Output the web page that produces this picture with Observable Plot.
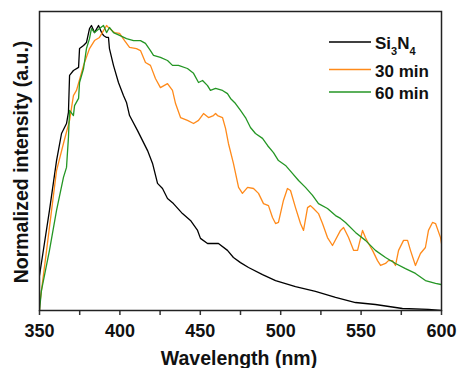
<!DOCTYPE html>
<html>
<head>
<meta charset="utf-8">
<script src="https://cdn.jsdelivr.net/npm/d3@7"></script>
<script src="https://cdn.jsdelivr.net/npm/@observablehq/plot@0.6"></script>
<style>
  html, body { margin: 0; padding: 0; background: #fff; }
  #chart { position: relative; width: 459px; height: 368px; }
</style>
</head>
<body>
<div id="chart"></div>
<script>
// ---- data ----
const seriesNames = ["Si3N4", "30 min", "60 min"];
const seriesColors = ["#000000", "#ff8a1a", "#249624"];

const siWl = [350, 356.2, 360.6, 363.7, 366.8, 368.0, 368.7, 371.1, 374.3, 374.9, 377.4, 379.2, 381.1, 382.3, 384.2, 386.7, 388.6, 389.8, 391.7, 392.9, 393.5, 396.0, 399.1, 402.2, 404.1, 406.0, 410.9, 417.2, 420.3, 423.4, 426.5, 429.6, 433.3, 438.9, 443.9, 448.3, 450.1, 454.5, 457.6, 461.3, 466.9, 470.6, 475.0, 480.0, 488.7, 496.8, 509.2, 521.6, 534.1, 546.5, 558.9, 575.7, 591.9, 600];
const siI  = [0.123, 0.351, 0.526, 0.621, 0.656, 0.695, 0.825, 0.842, 0.853, 0.919, 0.930, 0.940, 0.989, 1.000, 0.975, 1.000, 0.975, 0.965, 0.958, 0.958, 0.919, 0.860, 0.800, 0.754, 0.730, 0.684, 0.632, 0.561, 0.516, 0.446, 0.428, 0.393, 0.375, 0.340, 0.316, 0.281, 0.253, 0.235, 0.235, 0.235, 0.211, 0.186, 0.168, 0.151, 0.126, 0.105, 0.084, 0.067, 0.046, 0.028, 0.021, 0.007, 0.004, 0.0];

const m30Wl = [350, 350.2, 354.4, 357.5, 360.6, 364.9, 368.7, 371.1, 373.0, 377.4, 381.1, 384.2, 387.3, 389.8, 391.7, 393.5, 396.6, 399.8, 402.9, 406.0, 410.3, 412.8, 415.9, 419.0, 422.1, 425.2, 429.6, 432.7, 434.6, 437.7, 442.0, 445.8, 448.9, 452.0, 455.1, 458.2, 459.5, 460.7, 463.8, 465.7, 467.5, 470.6, 473.8, 476.2, 479.4, 483.1, 486.2, 489.3, 492.4, 494.9, 496.8, 498.6, 501.7, 504.2, 506.1, 509.2, 512.3, 514.2, 516.7, 518.5, 520.4, 523.5, 526.0, 529.1, 532.2, 537.2, 539.1, 542.2, 545.3, 547.8, 550.9, 552.7, 554.6, 557.1, 560.2, 562.1, 565.2, 567.0, 569.5, 571.4, 573.3, 576.4, 578.9, 580.7, 583.8, 586.9, 590.0, 591.9, 594.4, 596.3, 599.4, 600];
const m30I  = [0.0, 0.025, 0.211, 0.351, 0.491, 0.586, 0.667, 0.754, 0.772, 0.860, 0.919, 0.947, 0.958, 0.982, 1.000, 0.989, 0.975, 0.972, 0.947, 0.923, 0.919, 0.912, 0.870, 0.860, 0.814, 0.782, 0.796, 0.772, 0.726, 0.677, 0.667, 0.656, 0.667, 0.691, 0.677, 0.684, 0.691, 0.684, 0.677, 0.639, 0.586, 0.516, 0.432, 0.411, 0.432, 0.428, 0.411, 0.375, 0.368, 0.326, 0.305, 0.309, 0.386, 0.428, 0.421, 0.361, 0.305, 0.281, 0.361, 0.368, 0.358, 0.340, 0.305, 0.256, 0.228, 0.281, 0.291, 0.256, 0.211, 0.211, 0.281, 0.256, 0.235, 0.211, 0.175, 0.158, 0.165, 0.175, 0.175, 0.158, 0.211, 0.246, 0.246, 0.211, 0.158, 0.200, 0.221, 0.281, 0.309, 0.305, 0.256, 0.235];

const m60Wl = [350, 351.2, 356.2, 360.6, 364.9, 366.8, 368.0, 368.7, 371.1, 371.8, 374.3, 374.9, 377.4, 379.2, 381.1, 382.3, 384.2, 387.3, 389.8, 391.7, 393.5, 396.0, 399.8, 404.1, 408.5, 412.8, 415.9, 419.0, 420.9, 425.2, 429.6, 432.7, 436.4, 442.0, 445.8, 448.9, 451.4, 454.5, 456.3, 459.5, 463.8, 466.9, 468.8, 471.9, 475.0, 478.1, 481.2, 484.3, 488.7, 491.8, 495.5, 498.6, 503.0, 507.3, 511.1, 515.4, 519.8, 523.5, 529.1, 534.1, 537.2, 540.3, 546.5, 552.7, 558.9, 565.2, 571.4, 577.6, 583.8, 590.0, 596.3, 600];
const m60I  = [0.0, 0.070, 0.211, 0.351, 0.467, 0.502, 0.607, 0.702, 0.684, 0.719, 0.744, 0.800, 0.849, 0.919, 0.954, 0.989, 0.975, 0.989, 1.000, 0.975, 0.993, 0.975, 0.965, 0.954, 0.947, 0.947, 0.937, 0.912, 0.895, 0.888, 0.877, 0.860, 0.860, 0.849, 0.832, 0.800, 0.807, 0.789, 0.772, 0.779, 0.772, 0.761, 0.744, 0.726, 0.702, 0.677, 0.642, 0.621, 0.604, 0.579, 0.554, 0.526, 0.509, 0.481, 0.456, 0.432, 0.404, 0.375, 0.358, 0.333, 0.323, 0.309, 0.274, 0.246, 0.211, 0.186, 0.165, 0.147, 0.130, 0.105, 0.095, 0.091];

const majorTicks = [350, 400, 450, 500, 550, 600];
const minorTicks = [375, 425, 475, 525, 575];

// ---- build table ----
const rows = [];
[[siWl, siI], [m30Wl, m30I], [m60Wl, m60I]].forEach(([wl, it], k) => {
  wl.forEach((w, i) => rows.push({series: seriesNames[k], wl: w, v: it[i]}));
});

const W = 459, H = 368;
const font = "Arial, 'Liberation Sans', sans-serif";

const plot = Plot.plot({
  width: W,
  height: H,
  marginLeft: 39,
  marginRight: 18,
  marginTop: 11,
  marginBottom: 58,
  style: {fontFamily: font, fontSize: "18px", fontWeight: "bold", background: "#fff", color: "#111"},
  x: {domain: [350, 600]},
  y: {domain: [0, 1.049], axis: null},
  color: {domain: seriesNames, range: seriesColors},
  marks: [
    Plot.line(rows, {x: "wl", y: "v", z: "series", stroke: "series", strokeWidth: 1.3, clip: true}),
    Plot.axisX({ticks: majorTicks, tickSize: 5, tickPadding: 9, strokeWidth: 1.5, stroke: "#333", label: null, fontSize: 18, fontWeight: "bold"}),
    Plot.axisX({ticks: minorTicks, tickSize: 5, tickFormat: () => "", strokeWidth: 1.5, stroke: "#333", label: null}),
    Plot.frame({stroke: "#222", strokeWidth: 1.5})
  ]
});

const svg = d3.select(plot);
// axis titles
svg.append("text")
  .attr("x", 239).attr("y", 364.5)
  .attr("text-anchor", "middle")
  .style("font", `bold 19.5px ${font}`).attr("fill", "#111")
  .text("Wavelength (nm)");
svg.append("text")
  .attr("transform", "translate(27.5,162) rotate(-90)")
  .attr("text-anchor", "middle")
  .style("font", `bold 19.5px ${font}`).attr("fill", "#111")
  .text("Normalized intensity (a.u.)");

// legend
const lg = svg.append("g").style("font", `bold 17px ${font}`).attr("fill", "#111").attr("text-anchor", "start");
const legY = [42, 69.5, 92];
seriesNames.forEach((name, k) => {
  lg.append("line").attr("x1", 329).attr("x2", 371).attr("y1", legY[k]).attr("y2", legY[k])
    .attr("stroke", seriesColors[k]).attr("stroke-width", 1.3);
});
const t0 = lg.append("text").attr("x", 375).attr("y", 48.5).attr("text-anchor", "start");
t0.append("tspan").text("Si");
t0.append("tspan").attr("dy", 6).style("font-size", "11px").text("3");
t0.append("tspan").attr("dy", -6).text("N");
t0.append("tspan").attr("dy", 6).style("font-size", "11px").text("4");
lg.append("text").attr("x", 375).attr("y", 76.5).attr("text-anchor", "start").text("30 min");
lg.append("text").attr("x", 375).attr("y", 98.5).attr("text-anchor", "start").text("60 min");

document.getElementById("chart").appendChild(plot);
</script>
</body>
</html>
